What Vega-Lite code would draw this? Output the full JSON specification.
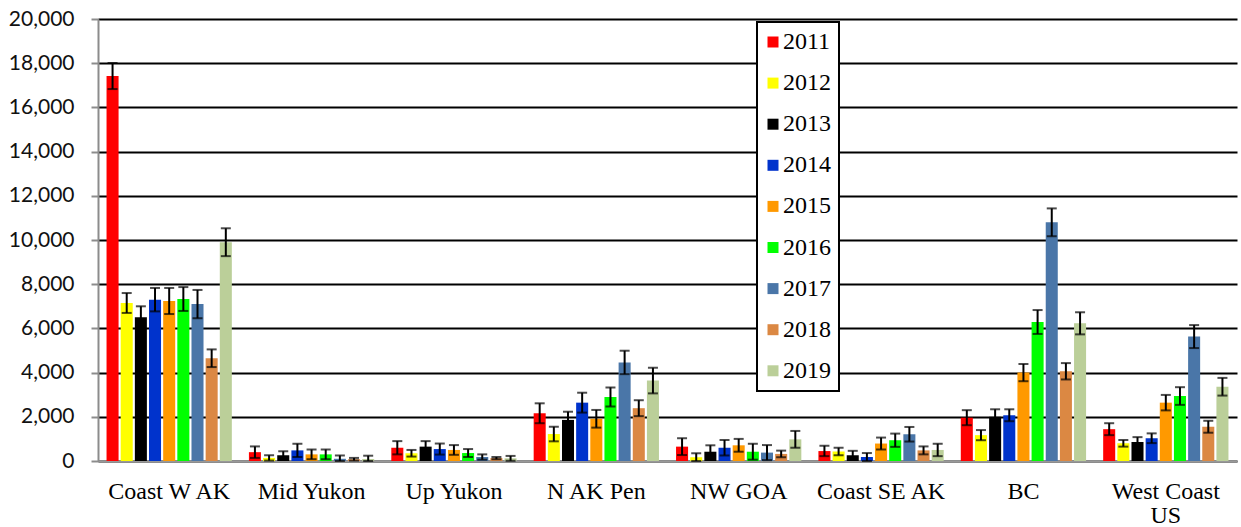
{
  "$schema": "https://vega.github.io/schema/vega-lite/v6.json",
  "width": 1139,
  "height": 442,
  "autosize": {"type": "none"},
  "padding": {"left": 98, "top": 19, "right": 4, "bottom": 66},
  "background": "white",
  "data": {
    "values": [
      {"region": "Coast W AK", "year": "2011", "value": 17420, "lo": 16830, "hi": 18010},
      {"region": "Coast W AK", "year": "2012", "value": 7150, "lo": 6700, "hi": 7600},
      {"region": "Coast W AK", "year": "2013", "value": 6500, "lo": 6000, "hi": 7000},
      {"region": "Coast W AK", "year": "2014", "value": 7300, "lo": 6770, "hi": 7830},
      {"region": "Coast W AK", "year": "2015", "value": 7240, "lo": 6650, "hi": 7830},
      {"region": "Coast W AK", "year": "2016", "value": 7330, "lo": 6790, "hi": 7870},
      {"region": "Coast W AK", "year": "2017", "value": 7100, "lo": 6460, "hi": 7740},
      {"region": "Coast W AK", "year": "2018", "value": 4650, "lo": 4250, "hi": 5050},
      {"region": "Coast W AK", "year": "2019", "value": 9900, "lo": 9270, "hi": 10530},
      {"region": "Mid Yukon", "year": "2011", "value": 400, "lo": 140, "hi": 660},
      {"region": "Mid Yukon", "year": "2012", "value": 140, "lo": 20, "hi": 260},
      {"region": "Mid Yukon", "year": "2013", "value": 260, "lo": 80, "hi": 440},
      {"region": "Mid Yukon", "year": "2014", "value": 480, "lo": 180, "hi": 780},
      {"region": "Mid Yukon", "year": "2015", "value": 300, "lo": 80, "hi": 520},
      {"region": "Mid Yukon", "year": "2016", "value": 300, "lo": 80, "hi": 520},
      {"region": "Mid Yukon", "year": "2017", "value": 100, "lo": 0, "hi": 250},
      {"region": "Mid Yukon", "year": "2018", "value": 80, "lo": 20, "hi": 140},
      {"region": "Mid Yukon", "year": "2019", "value": 90, "lo": 0, "hi": 240},
      {"region": "Up Yukon", "year": "2011", "value": 600, "lo": 300, "hi": 900},
      {"region": "Up Yukon", "year": "2012", "value": 350, "lo": 200, "hi": 500},
      {"region": "Up Yukon", "year": "2013", "value": 650, "lo": 400, "hi": 900},
      {"region": "Up Yukon", "year": "2014", "value": 540, "lo": 290, "hi": 790},
      {"region": "Up Yukon", "year": "2015", "value": 500, "lo": 280, "hi": 720},
      {"region": "Up Yukon", "year": "2016", "value": 360, "lo": 180, "hi": 540},
      {"region": "Up Yukon", "year": "2017", "value": 180, "lo": 60, "hi": 300},
      {"region": "Up Yukon", "year": "2018", "value": 130, "lo": 80, "hi": 180},
      {"region": "Up Yukon", "year": "2019", "value": 120, "lo": 10, "hi": 230},
      {"region": "N AK Pen", "year": "2011", "value": 2160, "lo": 1710, "hi": 2610},
      {"region": "N AK Pen", "year": "2012", "value": 1220, "lo": 890, "hi": 1550},
      {"region": "N AK Pen", "year": "2013", "value": 1860, "lo": 1490, "hi": 2230},
      {"region": "N AK Pen", "year": "2014", "value": 2640, "lo": 2190, "hi": 3090},
      {"region": "N AK Pen", "year": "2015", "value": 1910, "lo": 1510, "hi": 2310},
      {"region": "N AK Pen", "year": "2016", "value": 2900, "lo": 2470, "hi": 3330},
      {"region": "N AK Pen", "year": "2017", "value": 4460, "lo": 3930, "hi": 4990},
      {"region": "N AK Pen", "year": "2018", "value": 2390, "lo": 2030, "hi": 2750},
      {"region": "N AK Pen", "year": "2019", "value": 3640, "lo": 3060, "hi": 4220},
      {"region": "NW GOA", "year": "2011", "value": 650, "lo": 270, "hi": 1030},
      {"region": "NW GOA", "year": "2012", "value": 170, "lo": 0, "hi": 350},
      {"region": "NW GOA", "year": "2013", "value": 420, "lo": 130, "hi": 710},
      {"region": "NW GOA", "year": "2014", "value": 600, "lo": 250, "hi": 950},
      {"region": "NW GOA", "year": "2015", "value": 710, "lo": 420, "hi": 1000},
      {"region": "NW GOA", "year": "2016", "value": 420, "lo": 60, "hi": 780},
      {"region": "NW GOA", "year": "2017", "value": 380, "lo": 40, "hi": 720},
      {"region": "NW GOA", "year": "2018", "value": 320, "lo": 170, "hi": 470},
      {"region": "NW GOA", "year": "2019", "value": 980, "lo": 600, "hi": 1360},
      {"region": "Coast SE AK", "year": "2011", "value": 450, "lo": 220, "hi": 690},
      {"region": "Coast SE AK", "year": "2012", "value": 430, "lo": 260, "hi": 600},
      {"region": "Coast SE AK", "year": "2013", "value": 260, "lo": 60, "hi": 460},
      {"region": "Coast SE AK", "year": "2014", "value": 180, "lo": 0, "hi": 360},
      {"region": "Coast SE AK", "year": "2015", "value": 790, "lo": 520, "hi": 1060},
      {"region": "Coast SE AK", "year": "2016", "value": 940, "lo": 640, "hi": 1240},
      {"region": "Coast SE AK", "year": "2017", "value": 1210, "lo": 880, "hi": 1540},
      {"region": "Coast SE AK", "year": "2018", "value": 480, "lo": 300, "hi": 660},
      {"region": "Coast SE AK", "year": "2019", "value": 500, "lo": 220, "hi": 780},
      {"region": "BC", "year": "2011", "value": 1960, "lo": 1620, "hi": 2300},
      {"region": "BC", "year": "2012", "value": 1170, "lo": 940, "hi": 1400},
      {"region": "BC", "year": "2013", "value": 2000, "lo": 1660, "hi": 2340},
      {"region": "BC", "year": "2014", "value": 2070, "lo": 1800, "hi": 2340},
      {"region": "BC", "year": "2015", "value": 4000, "lo": 3610, "hi": 4390},
      {"region": "BC", "year": "2016", "value": 6290, "lo": 5750, "hi": 6830},
      {"region": "BC", "year": "2017", "value": 10800, "lo": 10170, "hi": 11430},
      {"region": "BC", "year": "2018", "value": 4060, "lo": 3690, "hi": 4430},
      {"region": "BC", "year": "2019", "value": 6230, "lo": 5730, "hi": 6730},
      {"region": "West Coast US", "year": "2011", "value": 1440, "lo": 1170, "hi": 1710},
      {"region": "West Coast US", "year": "2012", "value": 800, "lo": 650, "hi": 950},
      {"region": "West Coast US", "year": "2013", "value": 860, "lo": 640, "hi": 1080},
      {"region": "West Coast US", "year": "2014", "value": 1030, "lo": 810, "hi": 1250},
      {"region": "West Coast US", "year": "2015", "value": 2640, "lo": 2290, "hi": 2990},
      {"region": "West Coast US", "year": "2016", "value": 2940, "lo": 2540, "hi": 3340},
      {"region": "West Coast US", "year": "2017", "value": 5630, "lo": 5110, "hi": 6150},
      {"region": "West Coast US", "year": "2018", "value": 1550, "lo": 1280, "hi": 1820},
      {"region": "West Coast US", "year": "2019", "value": 3360, "lo": 2960, "hi": 3760}
    ]
  },
  "encoding": {
    "x": {
      "field": "region",
      "type": "nominal",
      "sort": ["Coast W AK", "Mid Yukon", "Up Yukon", "N AK Pen", "NW GOA", "Coast SE AK", "BC", "West Coast US"],
      "scale": {"paddingInner": 0.12, "paddingOuter": 0.06},
      "axis": {
        "title": null,
        "labelAngle": 0,
        "ticks": false,
        "grid": false,
        "domainColor": "#999999",
        "domainWidth": 2,
        "labelFont": "Liberation Serif",
        "labelFontSize": 24,
        "labelColor": "#000000",
        "labelPadding": 18,
        "labelLineHeight": 24,
        "labelExpr": "datum.label == 'West Coast US' ? ['West Coast', 'US'] : datum.label"
      }
    },
    "xOffset": {
      "field": "year",
      "type": "nominal",
      "scale": {"paddingInner": 0.15, "paddingOuter": 0}
    }
  },
  "layer": [
    {
      "mark": {"type": "bar"},
      "encoding": {
        "y": {
          "field": "value",
          "type": "quantitative",
          "scale": {"domain": [0, 20000], "nice": false},
          "axis": {
            "title": null,
            "values": [0, 2000, 4000, 6000, 8000, 10000, 12000, 14000, 16000, 18000, 20000],
            "format": ",d",
            "labelFont": "Lato",
            "labelFontSize": 21,
            "labelColor": "#111111",
            "labelPadding": 17,
            "tickSize": 7,
            "tickWidth": 2,
            "tickColor": "#8c8c8c",
            "domainColor": "#8c8c8c",
            "domainWidth": 2,
            "grid": true,
            "gridColor": "#000000",
            "gridWidth": 2
          }
        },
        "color": {
          "field": "year",
          "type": "nominal",
          "scale": {
            "domain": ["2011", "2012", "2013", "2014", "2015", "2016", "2017", "2018", "2019"],
            "range": ["#FF0000", "#FFFF00", "#000000", "#0033CC", "#FF9900", "#00FF00", "#4A76A8", "#DB8843", "#BBCF99"]
          },
          "legend": {
            "title": null,
            "orient": "none",
            "legendX": 659,
            "legendY": 3,
            "symbolType": "square",
            "symbolSize": 121,
            "symbolStrokeWidth": 0,
            "symbolOffset": -4,
            "labelFont": "Liberation Serif",
            "labelFontSize": 24,
            "labelColor": "#000000",
            "labelOffset": -2,
            "rowPadding": 17.1,
            "padding": 8,
            "strokeColor": "#000000",
            "fillColor": "#ffffff",
            "encode": {"legend": {"update": {"strokeWidth": {"value": 2}}}}
          }
        }
      }
    },
    {
      "mark": {"type": "rule", "color": "#000000", "strokeWidth": 2},
      "encoding": {
        "y": {"field": "lo", "type": "quantitative"},
        "y2": {"field": "hi"}
      }
    },
    {
      "mark": {"type": "tick", "color": "#000000", "size": 10, "thickness": 2},
      "encoding": {
        "y": {"field": "lo", "type": "quantitative"}
      }
    },
    {
      "mark": {"type": "tick", "color": "#000000", "size": 10, "thickness": 2},
      "encoding": {
        "y": {"field": "hi", "type": "quantitative"}
      }
    }
  ],
  "config": {
    "view": {"stroke": null}
  }
}
